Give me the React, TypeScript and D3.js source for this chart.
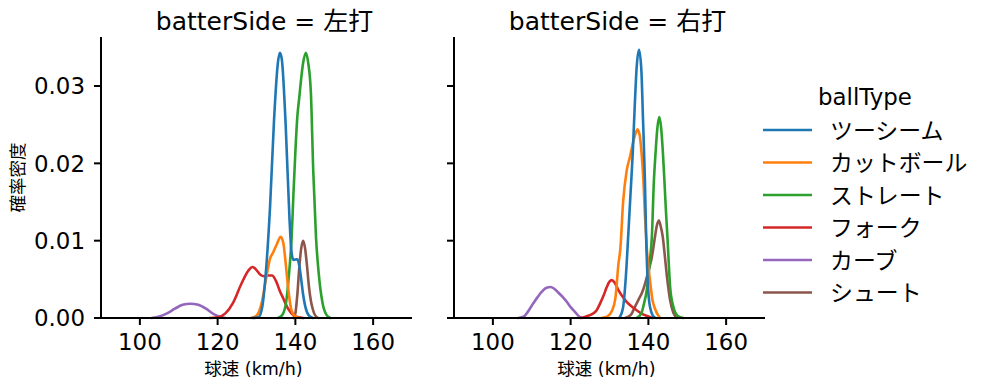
import React from 'react';
import * as d3 from 'd3';

const ballTypes = ['ツーシーム', 'カットボール', 'ストレート', 'フォーク', 'カーブ', 'シュート'];
const colors = ['#1f77b4', '#ff7f0e', '#2ca02c', '#d62728', '#9467bd', '#8c564b'];
const panelTitles = ['batterSide = 左打', 'batterSide = 右打'];
const xTicks = [100, 120, 140, 160];
const yTicks = [0, 0.01, 0.02, 0.03];
const yTickLabels = ['0.00', '0.01', '0.02', '0.03'];

// [球速, 確率密度] — left-handed batters
const leftTwoSeam: [number, number][] = [
  [129, 0], [130.5, 0.0001], [131.5, 0.0015], [132.5, 0.0065], [133.5, 0.0145], [134.5, 0.0255],
  [135.5, 0.033], [136, 0.0343], [136.5, 0.0335], [137.5, 0.025], [138.5, 0.0127], [139, 0.0085],
  [139.5, 0.0075], [140.5, 0.0076], [141, 0.0068], [141.5, 0.005], [142, 0.003], [142.5, 0.0016],
  [143.5, 0.0003], [144.5, 0],
];
const leftCutter: [number, number][] = [
  [128.5, 0], [130, 0.0003], [131.3, 0.0019], [132.4, 0.0049], [133.5, 0.0077], [134.3, 0.0085],
  [135.2, 0.0095], [136.2, 0.0105], [136.9, 0.0097], [137.6, 0.0066], [138.2, 0.0036], [139, 0.001],
  [140, 0.0002], [141, 0],
];
const leftFastball: [number, number][] = [
  [135.5, 0], [136.5, 0.0003], [137.5, 0.0017], [138.5, 0.0065], [139, 0.01], [139.5, 0.016],
  [140, 0.0215], [140.5, 0.026], [141, 0.0285], [141.5, 0.031], [142, 0.033], [142.7, 0.0343],
  [143.3, 0.033], [144, 0.029], [144.6, 0.019], [145.3, 0.0105], [146, 0.0058], [147, 0.0019],
  [148, 0.0004], [149, 0],
];
const leftFork: [number, number][] = [
  [118, 0], [120, 0.0001], [122, 0.0006], [124, 0.002], [126, 0.0043], [128, 0.0062], [129, 0.0066],
  [130, 0.0062], [131, 0.0056], [132, 0.0054], [133, 0.0055], [134, 0.0055], [135, 0.0048],
  [136, 0.0035], [137, 0.0024], [138, 0.0013], [139, 0.0006], [140, 0.0002], [142, 0],
];
const leftCurve: [number, number][] = [
  [103, 0], [105, 0.0002], [107, 0.0006], [109, 0.0012], [111, 0.0017], [113, 0.00185],
  [115, 0.0017], [117, 0.0012], [119, 0.0005], [121, 0.0001], [122, 0],
];
const leftShoot: [number, number][] = [
  [139.5, 0], [140, 0.0006], [140.5, 0.003], [141, 0.0065], [141.5, 0.009], [142, 0.01],
  [142.5, 0.009], [143, 0.0067], [143.5, 0.004], [144, 0.0022], [144.5, 0.0011], [145.5, 0.0001],
  [146, 0],
];

// right-handed batters
const rightTwoSeam: [number, number][] = [
  [132.5, 0], [133.5, 0.0014], [134.2, 0.0053], [134.8, 0.0105], [135.4, 0.016], [136, 0.0215],
  [136.5, 0.0275], [137, 0.0325], [137.6, 0.0347], [138.2, 0.032], [138.6, 0.026], [139.1, 0.018],
  [139.4, 0.011], [139.8, 0.005], [140.4, 0.0015], [141.5, 0.0001], [142, 0],
];
const rightCutter: [number, number][] = [
  [128, 0], [129.5, 0.0002], [130.6, 0.0009], [131.5, 0.0025], [132.3, 0.007], [132.8, 0.009],
  [133.5, 0.015], [134.4, 0.019], [135.3, 0.0209], [136.1, 0.0228], [136.8, 0.024], [137.2, 0.0244],
  [137.8, 0.0235], [138.3, 0.021], [138.7, 0.018], [139.1, 0.0135], [139.6, 0.009], [140.5, 0.0045],
  [141, 0.0025], [141.7, 0.0012], [143, 0],
];
const rightFastball: [number, number][] = [
  [137, 0], [138.2, 0.0006], [138.7, 0.0015], [139.7, 0.004], [140.4, 0.0075], [140.9, 0.0105],
  [141.4, 0.0175], [141.8, 0.021], [142.3, 0.0245], [142.8, 0.026], [143.3, 0.0245], [143.7, 0.0217],
  [144.1, 0.018], [144.5, 0.014], [144.9, 0.0105], [145.6, 0.004], [146.4, 0.0015], [147.5, 0.0003],
  [149, 0],
];
const rightFork: [number, number][] = [
  [122.5, 0], [124, 0.0002], [125.5, 0.0005], [126.7, 0.001], [127.5, 0.0018], [128.4, 0.0028],
  [129.3, 0.004], [130, 0.0047], [130.6, 0.0049], [131.3, 0.0046], [132.3, 0.0036], [133.3, 0.0028],
  [134.4, 0.0021], [135.7, 0.0015], [137, 0.001], [138.5, 0.0005], [140, 0.0002], [141, 0],
];
const rightCurve: [number, number][] = [
  [106.5, 0], [108, 0.0002], [108.7, 0.0006], [110.4, 0.0019], [111.5, 0.0027], [112.6, 0.0034],
  [113.8, 0.0039], [114.9, 0.004], [116, 0.0037], [116.8, 0.0033], [118, 0.0027], [119, 0.0021],
  [120, 0.0014], [121.1, 0.0008], [122.4, 0.0001], [123, 0],
];
const rightShoot: [number, number][] = [
  [134, 0], [135.5, 0.0004], [136.6, 0.0015], [137.5, 0.0024], [138.3, 0.0032], [139, 0.0042],
  [139.6, 0.0053], [140.3, 0.0066], [140.9, 0.0079], [141.7, 0.0105], [142.2, 0.012], [142.7, 0.0126],
  [143.2, 0.0118], [143.7, 0.0105], [144.2, 0.0082], [144.6, 0.0062], [145.1, 0.004], [145.6, 0.0023],
  [146.4, 0.0007], [147.3, 0],
];

const panelSeries = [
  [leftTwoSeam, leftCutter, leftFastball, leftFork, leftCurve, leftShoot],
  [rightTwoSeam, rightCutter, rightFastball, rightFork, rightCurve, rightShoot],
];

const FONT = '"DejaVu Sans", "Noto Sans CJK JP", sans-serif';
const W = 985;
const H = 391;
const panelX0 = [101, 454];
const panelW = 311;
const top = 37;
const bottom = 318;

export default function App() {
  const y = d3.scaleLinear().domain([0, 0.03634]).range([bottom, top]);
  return (
    <svg width={W} height={H} style={{ position: 'absolute', left: 0, top: 0, background: '#fff' }} fontFamily={FONT}>
      <rect width={W} height={H} fill="#fff" />
      {panelSeries.map((series, p) => {
        const x = d3.scaleLinear().domain([90, 170]).range([panelX0[p], panelX0[p] + panelW]);
        const line = d3
          .line<[number, number]>()
          .x((d) => x(d[0]))
          .y((d) => y(d[1]))
          .curve(d3.curveMonotoneX);
        const order = series.map((_, i) => i).reverse();
        return (
          <g key={p}>
            {order.map((i) => (
              <path key={i} d={line(series[i]) || ''} fill="none" stroke={colors[i]} strokeWidth={2.6} strokeLinejoin="round" strokeLinecap="round" />
            ))}
            <line x1={panelX0[p]} x2={panelX0[p]} y1={top} y2={bottom + 1} stroke="#000" strokeWidth={2} />
            <line x1={panelX0[p] - 1} x2={panelX0[p] + panelW} y1={bottom} y2={bottom} stroke="#000" strokeWidth={2} />
            {xTicks.map((t) => (
              <g key={t}>
                <line x1={x(t)} x2={x(t)} y1={bottom} y2={bottom + 7} stroke="#000" strokeWidth={2} />
                <text x={x(t)} y={350} textAnchor="middle" fontSize={22.9} fill="#000">{t}</text>
              </g>
            ))}
            {yTicks.map((t, k) => (
              <g key={t}>
                <line x1={panelX0[p] - 7} x2={panelX0[p]} y1={y(t)} y2={y(t)} stroke="#000" strokeWidth={2} />
                {p === 0 && (
                  <text x={panelX0[p] - 16} y={y(t) + 8.3} textAnchor="end" fontSize={22.9} fill="#000">{yTickLabels[k]}</text>
                )}
              </g>
            ))}
            <text x={panelX0[p] + panelW / 2 + 8} y={30} textAnchor="middle" fontSize={25} fill="#000">{panelTitles[p]}</text>
            <text x={panelX0[p] + panelW / 2 - 3} y={375} textAnchor="middle" fontSize={17.5} fill="#000">球速 (km/h)</text>
          </g>
        );
      })}
      <text transform={`translate(24,${(top + bottom) / 2}) rotate(-90)`} textAnchor="middle" fontSize={17.5} fill="#000">確率密度</text>
      <text x={865} y={105} textAnchor="middle" fontSize={22.9} fill="#000">ballType</text>
      {ballTypes.map((b, i) => {
        const ly = 130 + i * 32.5;
        return (
          <g key={b}>
            <line x1={763} x2={812} y1={ly} y2={ly} stroke={colors[i]} strokeWidth={2.6} />
            <text x={830} y={ly + 8.5} fontSize={22.9} fill="#000">{b}</text>
          </g>
        );
      })}
    </svg>
  );
}
